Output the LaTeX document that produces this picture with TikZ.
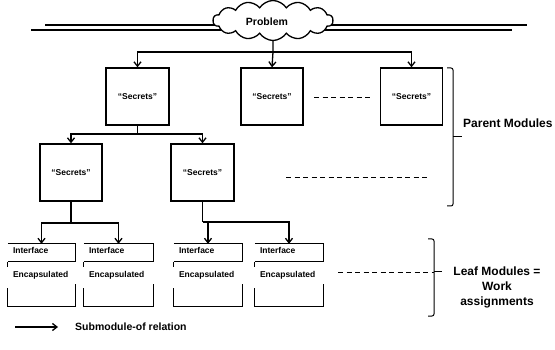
\documentclass[tikz,border=0pt]{standalone}
\usepackage{fontspec}
\setmainfont{Liberation Sans}
\usetikzlibrary{shapes.symbols,arrows.meta,calc}
\begin{document}
\begin{tikzpicture}[x=1pt,y=-1pt,
  line/.style={line width=1.3pt},
  arr/.style={line width=1.3pt,-{Straight Barb[length=4.5pt,width=7pt]}},
  modbox/.style={draw,line width=1.3pt,minimum height=57pt,inner sep=0pt,
    font=\fontsize{8.5}{10}\selectfont\bfseries},
  leafbox/.style={draw=none,minimum width=67pt,minimum height=62pt,inner sep=0pt},
  leaftext/.style={anchor=west,inner sep=0pt,font=\fontsize{8.5}{10}\selectfont\bfseries},
  dashline/.style={line width=0.9pt,dash pattern=on 5pt off 3.5pt},
  bracket/.style={line width=1pt,rounded corners=2pt},
  bigtext/.style={font=\fontsize{12}{15}\selectfont\bfseries}]
\useasboundingbox (0,0) rectangle (555,350);

% horizontal double lines through the cloud
\coordinate (ul) at (45,25);  \coordinate (ur) at (527,25);
\coordinate (ll) at (31,30);  \coordinate (lr) at (512,30);
\draw[line width=1.6pt] (ul) -- (ur);
\draw[line width=1.6pt] (ll) -- (lr);

% problem cloud
\node[cloud,cloud puffs=14,cloud puff arc=115,aspect=3,draw,fill=white,
  line width=1.3pt,minimum width=120pt,minimum height=40pt,inner sep=0pt] (p) at (273,20.5) {};
\node[font=\fontsize{10.5}{12}\selectfont\bfseries] (pt) at (267,22) {Problem};

% parent modules
\node[modbox,minimum width=63pt] (A) at (137.5,96.5) {“Secrets”};
\node[modbox,minimum width=62pt] (B) at (272,96.5) {“Secrets”};
\node[modbox,minimum width=62pt] (C) at (411.5,96.5) {“Secrets”};
\node[modbox,minimum width=62pt] (D) at (71,172.5) {“Secrets”};
\node[modbox,minimum width=63pt] (E) at (202.5,172.5) {“Secrets”};

% leaf modules
\node[leafbox] (l1) at (41.5,275) {};
\node[leafbox,minimum width=69pt] (l2) at (118.5,275) {};
\node[leafbox,minimum width=68pt] (l3) at (208,275) {};
\node[leafbox,minimum width=68pt] (l4) at (289,275) {};
\foreach \n in {l1,l2,l3,l4}{
  \draw[line] (\n.north west) -- (\n.north east) -- ([yshift=-18pt]\n.north east);
  \draw[line] ([yshift=-18pt]\n.north west) -- ([yshift=-18pt]\n.north east);
  \draw[line] ([yshift=-18pt]\n.north west) -- ([yshift=-23pt]\n.north west);
  \draw[line] ([yshift=18pt]\n.south west) -- (\n.south west) -- (\n.south east) -- ([yshift=22pt]\n.south east);
  \node[leaftext] at ([xshift=5pt,yshift=-7pt]\n.north west) {Interface};
  \node[leaftext] at ([xshift=5pt,yshift=-32pt]\n.north west) {Encapsulated};
}

% connectors
\coordinate (j0) at (273,52);
\draw[line] (p.south) -- (j0);
\draw[arr] (j0) -| (A.north);
\draw[arr] (j0) -- (B.north);
\draw[arr] (j0) -| (C.north);

\coordinate (j1) at (137.5,134);
\draw[line] (A.south) -- (j1);
\draw[arr] (j1) -| (D.north);
\draw[arr] (j1) -| (E.north);

\coordinate (j2) at (71,223);
\draw[line] (D.south) -- (j2);
\draw[arr] (j2) -| (l1.north);
\draw[arr] (j2) -| (l2.north);

\coordinate (j3) at (202.5,222);
\draw[line] (E.south) -- (j3);
\draw[arr] (j3) -| (l3.north);
\draw[arr] (j3) -| (l4.north);

% dashed continuation lines
\coordinate (d1a) at (314,97);  \coordinate (d1b) at (370,97);
\coordinate (d2a) at (286,177); \coordinate (d2b) at (428,177);
\coordinate (d3a) at (338,272); \coordinate (d3b) at (434,272);
\draw[dashline] (d1a) -- (d1b);
\draw[dashline] (d2a) -- (d2b);
\draw[dashline] (d3a) -- (d3b);

% brackets
\draw[bracket] (447,68) -| (453,206) -- (447,206);
\draw[line width=1pt] (453,137) -- (462,137);
\node[bigtext,anchor=west,inner sep=0pt] (pm) at (463,123) {Parent Modules};

\draw[bracket] (428,239) -| (434,316) -- (428,316);
\draw[line width=1pt] (434,272) -- (442,272);
\node[bigtext,align=center,inner sep=0pt] (lm) at (497,287) {Leaf Modules =\\Work\\assignments};

% legend
\coordinate (ga) at (15,327); \coordinate (gb) at (58,327);
\draw[arr] (ga) -- (gb);
\node[anchor=west,inner sep=0pt,font=\fontsize{10.5}{12}\selectfont\bfseries] (lg) at (75,327) {Submodule-of relation};
\end{tikzpicture}
\end{document}
